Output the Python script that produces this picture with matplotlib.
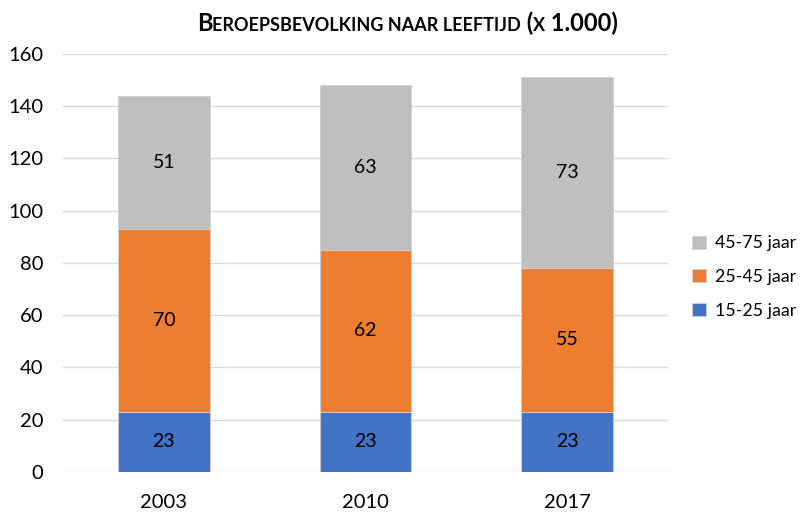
import matplotlib
matplotlib.use("Agg")
import matplotlib.pyplot as plt
from matplotlib.offsetbox import TextArea, HPacker, AnnotationBbox

plt.rcParams['font.family'] = ['Lato', 'DejaVu Sans']

years = ['2003', '2010', '2017']
jong = [23, 23, 23]        # 15-25 jaar
midden = [70, 62, 55]      # 25-45 jaar
oud = [51, 63, 73]         # 45-75 jaar

series = [
    ('15-25 jaar', jong, '#4472C4'),
    ('25-45 jaar', midden, '#ED7D31'),
    ('45-75 jaar', oud, '#BFBFBF'),
]

fig = plt.figure(figsize=(8.07, 5.13), dpi=100)
ax = fig.add_axes([0.078, 0.080, 0.750, 0.815])

x = list(range(len(years)))
bottom = [0] * len(years)
handles = []
for label, vals, color in series:
    bars = ax.bar(x, vals, width=0.455, bottom=bottom, color=color,
                  edgecolor='#d0d0d0', linewidth=0.6, label=label, zorder=3)
    handles.append(bars)
    for xi, b, v in zip(x, bottom, vals):
        ax.text(xi, b + v / 2, str(v), ha='center', va='center',
                fontsize=14, color='black', zorder=4)
    bottom = [b + v for b, v in zip(bottom, vals)]

ax.set_xlim(-0.5, 2.5)
ax.set_ylim(0, 160)
ax.set_yticks(range(0, 161, 20))
ax.set_xticks(x)
ax.set_xticklabels(years)
ax.tick_params(axis='both', length=0, labelsize=14.5)
ax.tick_params(axis='x', pad=16)
ax.tick_params(axis='y', pad=14)
ax.grid(axis='y', color='#D9D9D9', linewidth=1, zorder=0)
for s in ax.spines.values():
    s.set_visible(False)

leg = fig.legend(handles[::-1], [s[0] for s in series[::-1]],
                 loc='center left', bbox_to_anchor=(0.858, 0.46),
                 frameon=False, fontsize=12.8, handlelength=0.75,
                 handleheight=0.75, handletextpad=0.5, labelspacing=1.0,
                 borderaxespad=0, borderpad=0)

# titel in klein kapitaal
parts = [('B', 17), ('EROEPSBEVOLKING NAAR LEEFTIJD', 13), (' (', 17),
         ('X', 13), (' 1.000)', 17)]
areas = [TextArea(t, textprops=dict(fontsize=fs, fontweight='bold', color='black'))
         for t, fs in parts]
box = HPacker(children=areas, align='baseline', pad=0, sep=0)
ab = AnnotationBbox(box, (0.505, 0.955), xycoords='figure fraction',
                    frameon=False, box_alignment=(0.5, 0.5))
fig.add_artist(ab)

fig.savefig('out.png', dpi=100)
